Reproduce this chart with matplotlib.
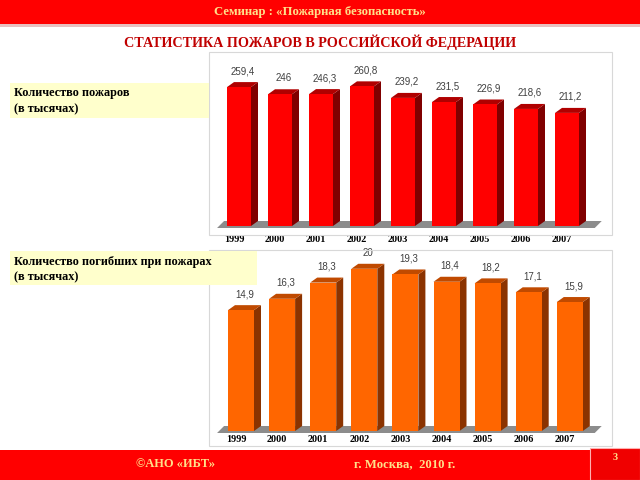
import matplotlib
matplotlib.use("Agg")
import matplotlib.pyplot as plt
from matplotlib.patches import Rectangle, Polygon

years = ["1999", "2000", "2001", "2002", "2003", "2004", "2005", "2006", "2007"]
fires = [259.4, 246, 246.3, 260.8, 239.2, 231.5, 226.9, 218.6, 211.2]
deaths = [14.9, 16.3, 18.3, 20, 19.3, 18.4, 18.2, 17.1, 15.9]
fires_lbl = ["259,4", "246", "246,3", "260,8", "239,2", "231,5", "226,9", "218,6", "211,2"]
deaths_lbl = ["14,9", "16,3", "18,3", "20", "19,3", "18,4", "18,2", "17,1", "15,9"]

W, H = 640, 480
fig = plt.figure(figsize=(6.4, 4.8), dpi=100)
fig.patch.set_facecolor("white")
SERIF = ["Liberation Serif", "DejaVu Serif"]
SANS = ["Liberation Sans", "DejaVu Sans"]


def fx(x):
    return x / W


def fy(y):
    return 1 - y / H


def frect(x0, y0, x1, y1, **kw):
    r = Rectangle((fx(x0), fy(y1)), fx(x1) - fx(x0), fy(y0) - fy(y1),
                  transform=fig.transFigure, **kw)
    fig.patches.append(r)
    return r


def ftext(x, y, s, **kw):
    fig.text(fx(x), fy(y), s, **kw)


# banners
frect(0, 0, 640, 24, facecolor="#FF0000", edgecolor="none")
frect(0, 24, 640, 27, facecolor="#E8C0C0", edgecolor="none")
ftext(320, 12, "Семинар : «Пожарная безопасность»", ha="center", va="center",
      color="#FFE08A", fontsize=9.2, fontweight="bold", family=SERIF)
ftext(320, 42, "СТАТИСТИКА ПОЖАРОВ В РОССИЙСКОЙ ФЕДЕРАЦИИ", ha="center", va="center",
      color="#C00000", fontsize=10.2, fontweight="bold", family=SERIF)

frect(0, 450, 640, 480, facecolor="#FF0000", edgecolor="none")
frect(590, 448, 640, 480, facecolor="#F00000", edgecolor="#FFB0B0", linewidth=0.8)
ftext(175, 464, "©АНО «ИБТ»", ha="center", va="center", color="#FFE08A",
      fontsize=9, fontweight="bold", family=SERIF)
ftext(405, 464, "г. Москва,  2010 г.", ha="center", va="center", color="#FFE08A",
      fontsize=9.2, fontweight="bold", family=SERIF)
ftext(615, 458, "3", ha="center", va="center", color="#FFE08A",
      fontsize=7.5, fontweight="bold", family=SERIF)

# chart frames
frect(209, 52, 612, 235, facecolor="none", edgecolor="#D8D8D8", linewidth=0.8)
frect(209, 250, 612, 446, facecolor="none", edgecolor="#D8D8D8", linewidth=0.8)

# label boxes
frect(10, 83, 209, 118, facecolor="#FFFFCC", edgecolor="none")
ftext(14, 93, "Количество пожаров", ha="left", va="center", color="black",
      fontsize=8.8, fontweight="bold", family=SERIF)
ftext(14, 109, "(в тысячах)", ha="left", va="center", color="black",
      fontsize=8.8, fontweight="bold", family=SERIF)
frect(10, 251, 257, 285, facecolor="#FFFFCC", edgecolor="none")
ftext(14, 262, "Количество погибших при пожарах", ha="left", va="center", color="black",
      fontsize=8.8, fontweight="bold", family=SERIF)
ftext(14, 277, "(в тысячах)", ha="left", va="center", color="black",
      fontsize=8.8, fontweight="bold", family=SERIF)


def chart(left, right, top, base, x0px, stepx, barw, ymax, vals, lbls,
          front, side, topc, yearpad, dxp=7, dyp=5):
    ax = fig.add_axes([fx(left), fy(base), fx(right) - fx(left), fy(top) - fy(base)])
    xl = -(x0px - left) / stepx
    xr = xl + (right - left) / stepx
    ax.set_xlim(xl, xr)
    ax.set_ylim(0, ymax)
    ax.axis("off")
    ux = stepx  # px per x-unit
    uy = (base - top) / ymax  # px per y-unit
    dx = dxp / ux
    dy = dyp / uy
    bw = barw / ux
    # floor
    fa, fb = xl + 0.05, xr - 0.25
    d0 = 2 / uy
    ax.add_patch(Polygon([(fa, -d0), (fb, -d0), (fb + dx, dy), (fa + dx, dy)],
                         closed=True, facecolor="#8C8C8C", edgecolor="none", clip_on=False))
    for i, v in enumerate(vals):
        x1, x2 = i - bw / 2, i + bw / 2
        ax.add_patch(Polygon([(x2, 0), (x2 + dx, dy), (x2 + dx, v + dy), (x2, v)],
                             closed=True, facecolor=side, edgecolor="none", clip_on=False))
        ax.add_patch(Polygon([(x1, v), (x2, v), (x2 + dx, v + dy), (x1 + dx, v + dy)],
                             closed=True, facecolor=topc, edgecolor="none", clip_on=False))
        ax.bar(i, v, width=bw, color=front, edgecolor="none", clip_on=False)
        ax.text(i + dx / 2, v + dy + 6 / uy, lbls[i], ha="center", va="bottom",
                color="#404040", fontsize=7, family=SANS, clip_on=False)
    for i, yr in enumerate(years):
        ax.text(i - 0.12, -yearpad / uy, yr, ha="center", va="center", color="black",
                fontsize=7.3, fontweight="bold", family=SERIF, clip_on=False)
    return ax


chart(215, 605, 60, 226, 239, 41, 24, 310, fires, fires_lbl,
      "#FF0000", "#800000", "#B00000", 14)
chart(215, 605, 255, 431, 241, 41.1, 26, 21.7, deaths, deaths_lbl,
      "#FF6600", "#8B3300", "#C04A00", 8)

fig.savefig("out.png", dpi=100, facecolor="white")
